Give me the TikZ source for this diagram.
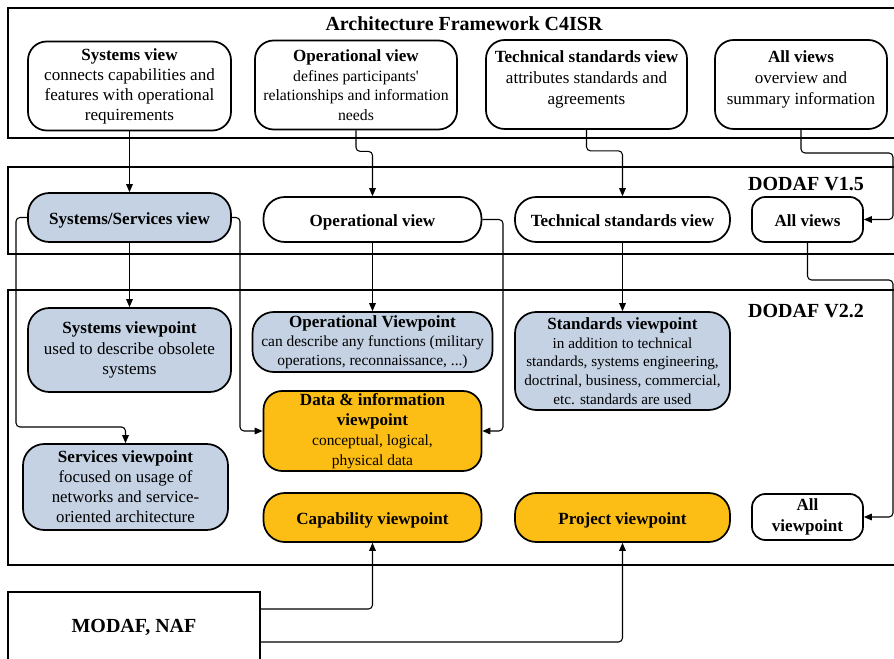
\documentclass[tikz,border=0pt]{standalone}
\usepackage{fontspec}
\setmainfont{Liberation Serif}
\usetikzlibrary{arrows.meta,calc}
\definecolor{vpblue}{RGB}{196,210,228}
\definecolor{vporange}{RGB}{252,190,20}

% title line inside a box
\newcommand\ttl[1]{{\fontsize{12.8}{15}\selectfont\bfseries #1}}

\tikzset{
  sz/.style 2 args={minimum width=#1*0.75pt, minimum height=#2*0.75pt},
  layer/.style={draw, line width=1.5pt, rectangle, inner sep=0pt},
  vbox/.style={draw, line width=1.3pt, rounded corners=14pt, align=center,
    inner sep=0pt, font=\fontsize{12.8}{15}\selectfont},
  pill/.style={vbox, rounded corners=16pt},
  tight/.style={rounded corners=10pt},
  oneline/.style={text height=12.5pt, text depth=2.5pt},
  fs/.style 2 args={font=\fontsize{#1}{#2}\selectfont},
  svfill/.style={fill=vpblue},
  dvfill/.style={fill=vporange},
  conn/.style={draw, line width=0.8pt, rounded corners=3pt,
    -{Triangle[length=6pt,width=5pt]}},
  frametitle/.style={font=\fontsize{15}{18}\selectfont\bfseries},
}

\begin{document}
\begin{tikzpicture}[x=0.75pt,y=-0.75pt]
\useasboundingbox (0,0) rectangle (894,659);

% ---------- layer frames ----------
\node[layer, sz={902}{130}] (c4) at (459,73) {};
\node[layer, sz={902}{87}] (v15) at (459,210.5) {};
\node[layer, sz={902}{275}] (v22) at (459,427.5) {};
\node[layer, sz={252}{70}, frametitle] (modaf) at (134,627) {MODAF, NAF};

\node[frametitle] (c4t) at (464,24) {Architecture Framework C4ISR};
\node[frametitle] (v15t) at (806,184) {DODAF V1.5};
\node[frametitle] (v22t) at (806,311) {DODAF V2.2};

% ---------- C4ISR views ----------
\node[vbox, sz={203}{89}] (sv) at (129.5,86)
  {\ttl{Systems view}\\ connects capabilities and\\ features with operational\\ requirements};
\node[vbox, fs={11.8}{14.6}, sz={202}{89}] (ov) at (356,85)
  {\ttl{Operational view}\\ defines participants\textquotesingle\\ relationships and information\\ needs};
\node[vbox, fs={12.8}{15.75}, sz={201}{89}] (tv) at (586.5,84.5)
  {\ttl{Technical standards view}\\ attributes standards and\\ agreements\\[-6pt]};
\node[vbox, fs={12.8}{15.75}, sz={172}{89}] (av) at (801,84.5)
  {\ttl{All views}\\ overview and\\ summary information\\[-6pt]};

% ---------- DODAF V1.5 views ----------
\node[pill, svfill, oneline, sz={203}{49}] (ssv) at (129.5,217.5) {\ttl{Systems/Services view}};
\node[pill, oneline, sz={218}{45}] (ov15) at (372.5,219.5) {\ttl{Operational view}};
\node[pill, oneline, sz={215}{45}] (tsv15) at (622.5,219.5) {\ttl{Technical standards view}};
\node[vbox, tight, oneline, sz={111}{45}] (av15) at (807.5,219.5) {\ttl{All views}};

% ---------- DODAF V2.2 viewpoints ----------
\node[pill, svfill, fs={12.8}{15.4}, sz={203}{84}] (svp) at (129.5,350)
  {\ttl{Systems viewpoint}\\ used to describe obsolete\\ systems};
\node[pill, svfill, fs={11.6}{14.2}, sz={240}{60}] (ovp) at (372.5,342)
  {\ttl{Operational Viewpoint}\\ can describe any functions (military\\ operations, reconnaissance, ...)};
\node[pill, svfill, fs={11.4}{14}, sz={215}{98}] (stvp) at (622.5,361)
  {\ttl{Standards viewpoint}\\ in addition to technical\\ standards, systems engineering,\\ doctrinal, business, commercial,\\ etc. standards are used};
\node[vbox, dvfill, fs={11.6}{15}, sz={218}{80}] (divp) at (372.5,431)
  {\ttl{Data \& information}\\ \ttl{viewpoint}\\ conceptual, logical,\\ physical data};
\node[pill, svfill, fs={12.6}{15}, sz={205}{86}] (servp) at (125.5,487)
  {\ttl{Services viewpoint}\\ focused on usage of\\ networks and service-\\ oriented architecture};
\node[pill, dvfill, oneline, sz={218}{49}] (capvp) at (372.5,517.5) {\ttl{Capability viewpoint}};
\node[pill, dvfill, oneline, sz={215}{49}] (projvp) at (622.5,517.5) {\ttl{Project viewpoint}};
\node[vbox, tight, fs={12.8}{15.75}, sz={111}{46}] (allvp) at (807.5,517) {\ttl{All}\\ \ttl{viewpoint}};

% ---------- routing points ----------
\coordinate (r1) at (893,153);
\coordinate (r2) at (893,280);
\coordinate (l1) at (16,427);
\coordinate (m1) at (240,431);
\coordinate (m2) at (503,431);

% ---------- connectors ----------
\draw[conn] (sv.south) -- (sv.south |- ssv.north);
\draw[conn] (ov.south) -- ++(0,21) -| (ov15.north);
\draw[conn] (tv.south) -- ++(0,21) -| (tsv15.north);
\draw[conn] (av.south) |- (r1) |- (av15.east);

\draw[conn] (ssv.south) -- (ssv.south |- svp.north);
\draw[conn] (ssv.west) -| (l1) -| (servp.north);
\draw[conn] (ssv.east) -| (m1) -- (divp.west);
\draw[conn] (ov15.south) -- (ovp.north);
\draw[conn] (ov15.east) -| (m2) -- (divp.east);
\draw[conn] (tsv15.south) -- (stvp.north);
\draw[conn] (av15.south) |- (r2) |- (allvp.east);

\draw[conn] ($(modaf.east)+(0,-18)$) -| (capvp.south);
\draw[conn] ($(modaf.east)+(0,15)$) -| (projvp.south);
\end{tikzpicture}
\end{document}
